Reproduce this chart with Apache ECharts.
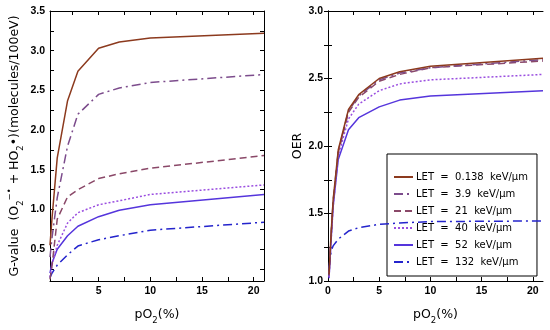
<!DOCTYPE html>
<html><head><meta charset="utf-8">
<script src="https://cdn.jsdelivr.net/npm/echarts@6/dist/echarts.min.js"></script>
<style>html,body{margin:0;padding:0;background:#fff}#c{width:550px;height:330px}</style>
</head><body><div id="c"></div>
<script>
// ---- data ----
const seriesNames = ['LET = 0.138 keV/μm','LET = 3.9 keV/μm','LET = 21 keV/μm','LET = 40 keV/μm','LET = 52 keV/μm','LET = 132 keV/μm'];
const legendLabels = ['LET  =  0.138  keV/μm','LET  =  3.9  keV/μm','LET  =  21  keV/μm','LET  =  40  keV/μm','LET  =  52  keV/μm','LET  =  132  keV/μm'];
// left panel: G-value vs pO2
const pO2Left = [0.3, 0.5, 1, 2, 3, 5, 7, 10, 21];
const gLET0138 = [0.55, 0.9, 1.65, 2.37, 2.74, 3.03, 3.11, 3.16, 3.22];
const gLET39   = [0.4, 0.65, 1.15, 1.8, 2.2, 2.45, 2.53, 2.60, 2.70];
const gLET21   = [0.12, 0.3, 0.88, 1.16, 1.25, 1.39, 1.45, 1.52, 1.68];
const gLET40   = [0.15, 0.3, 0.55, 0.83, 0.96, 1.06, 1.11, 1.19, 1.31];
const gLET52   = [0.2, 0.33, 0.5, 0.67, 0.79, 0.91, 0.99, 1.06, 1.19];
const gLET132  = [0.14, 0.2, 0.3, 0.43, 0.54, 0.62, 0.67, 0.74, 0.84];
// right panel: OER vs pO2
const pO2Right = [0.1, 0.3, 0.5, 1, 2, 3, 5, 7, 10, 21];
const oerLET0138 = [1.05, 1.35, 1.6, 1.97, 2.27, 2.38, 2.50, 2.55, 2.59, 2.65];
const oerLET39   = [1.05, 1.34, 1.59, 1.96, 2.26, 2.37, 2.49, 2.54, 2.58, 2.64];
const oerLET21   = [1.04, 1.33, 1.58, 1.95, 2.25, 2.36, 2.48, 2.53, 2.58, 2.63];
const oerLET40   = [1.03, 1.3, 1.55, 1.93, 2.2, 2.31, 2.41, 2.46, 2.49, 2.53];
const oerLET52   = [1.02, 1.3, 1.55, 1.9, 2.12, 2.21, 2.29, 2.34, 2.37, 2.41];
const oerLET132  = [1.1, 1.22, 1.26, 1.31, 1.37, 1.395, 1.42, 1.43, 1.44, 1.445];
// ticks
const leftXLabels = [5, 10, 15, 20];
const leftXTicks = [2.5, 5, 7.5, 10, 12.5, 15, 17.5, 20];
const leftYLabels = [0.5, 1.0, 1.5, 2.0, 2.5, 3.0, 3.5];
const leftYTicks = [0.25, 0.5, 0.75, 1, 1.25, 1.5, 1.75, 2, 2.25, 2.5, 2.75, 3, 3.25, 3.5];
const rightXLabels = [0, 5, 10, 15, 20];
const rightXTicks = [0, 2.5, 5, 7.5, 10, 12.5, 15, 17.5, 20];
const rightYLabels = [1.0, 1.5, 2.0, 2.5, 3.0];
const rightYTicks = [1, 1.25, 1.5, 1.75, 2, 2.25, 2.5, 2.75, 3];

// ---- styles ----
const colors = ['#8c3a1e', '#7c4c8c', '#8a4868', '#9a4ee0', '#5535dc', '#2424cc'];
const dashes = ['solid', [9, 4, 2, 4], [7, 4], [2, 2], 'solid', [9, 4, 2, 4]];
const leftData = [gLET0138, gLET39, gLET21, gLET40, gLET52, gLET132];
const rightData = [oerLET0138, oerLET39, oerLET21, oerLET40, oerLET52, oerLET132];

const FONT = 'Liberation Sans';
const NFONT = 'DejaVu Sans';
const rich = {
  n: {fontSize: 12.5, fontFamily: NFONT, color: '#000', lineHeight: 20, verticalAlign: 'middle'},
  s: {fontSize: 8.5, fontFamily: NFONT, color: '#000', lineHeight: 11, verticalAlign: 'bottom'},
  u: {fontSize: 8.5, fontFamily: NFONT, color: '#000', lineHeight: 11, verticalAlign: 'top'}
};
const richOER = {
  n: {fontSize: 12.5, fontFamily: NFONT, color: '#000', lineHeight: 14, verticalAlign: 'middle'}
};
const richX = {
  n: {fontSize: 12.5, fontFamily: NFONT, color: '#000', lineHeight: 20, verticalAlign: 'middle'},
  s: {fontSize: 8.5, fontFamily: NFONT, color: '#000', lineHeight: 12, verticalAlign: 'bottom'}
};

function valAxis(o) {
  const base = {
    type: 'value', gridIndex: o.grid, min: o.min, max: o.max, position: o.position,
    axisLine: {show: true, lineStyle: {color: '#000', width: 1}},
    axisTick: {show: true, inside: true, length: 4, customValues: o.ticks, lineStyle: {color: '#000', width: 1}},
    axisLabel: {show: !!o.labels, customValues: o.labels || [], color: '#000', fontSize: 10.5, fontWeight: 'bold', fontFamily: FONT, margin: 5,
      formatter: o.fmt || (v => String(v))},
    splitLine: {show: false}
  };
  if (o.name) {
    base.name = o.name; base.nameLocation = 'middle'; base.nameGap = o.nameGap; base.nameTextStyle = {rich: o.rich};
  }
  return base;
}
const fmt1 = v => v.toFixed(1);

const xAxis = [
  valAxis({grid: 0, min: 0.3, max: 21, position: 'bottom', ticks: leftXTicks, labels: leftXLabels, name: '{n|pO}{s|2}{n|(%)}', nameGap: 24, rich: richX}),
  valAxis({grid: 0, min: 0.3, max: 21, position: 'top', ticks: leftXTicks}),
  valAxis({grid: 1, min: 0, max: 21, position: 'bottom', ticks: rightXTicks, labels: rightXLabels, name: '{n|pO}{s|2}{n|(%)}', nameGap: 24, rich: richX}),
  valAxis({grid: 1, min: 0, max: 21, position: 'top', ticks: rightXTicks})
];
const yAxis = [
  valAxis({grid: 0, min: 0.1, max: 3.5, position: 'left', ticks: leftYTicks, labels: leftYLabels, fmt: fmt1,
    name: '{n|G-value  (O}{s|2}{u|−•}{n| + HO}{s|2}{n|•)(molecules/100eV)}', nameGap: 25, rich: rich}),
  valAxis({grid: 0, min: 0.1, max: 3.5, position: 'right', ticks: leftYTicks}),
  valAxis({grid: 1, min: 1, max: 3, position: 'left', ticks: rightYTicks, labels: rightYLabels, fmt: fmt1,
    name: '{n|OER}', nameGap: 19, rich: richOER}),
  valAxis({grid: 1, min: 1, max: 3, position: 'right', ticks: rightYTicks})
];

const series = [];
for (let i = 0; i < 6; i++) {
  series.push({
    name: seriesNames[i], type: 'line', xAxisIndex: 0, yAxisIndex: 0, symbol: 'none', smooth: false,
    data: pO2Left.map((x, k) => [x, leftData[i][k]]),
    lineStyle: {color: colors[i], width: 1.5, type: dashes[i]}, itemStyle: {color: colors[i]}, z: 10 - i
  });
}
for (let i = 0; i < 6; i++) {
  series.push({
    name: seriesNames[i], type: 'line', xAxisIndex: 2, yAxisIndex: 2, symbol: 'none', smooth: false,
    data: pO2Right.map((x, k) => [x, rightData[i][k]]),
    lineStyle: {color: colors[i], width: 1.5, type: dashes[i]}, itemStyle: {color: colors[i]}, z: 10 - i
  });
}

const chart = echarts.init(document.getElementById('c'), null, {renderer: 'canvas'});
chart.setOption({
  backgroundColor: '#fff',
  animation: false,
  grid: [
    {left: 50, top: 11, width: 214, height: 278, containLabel: false},
    {left: 328, top: 11, width: 215, height: 278, containLabel: false}
  ],
  xAxis: xAxis,
  yAxis: yAxis,
  legend: {
    data: seriesNames, orient: 'vertical', left: 387, top: 154,
    padding: [17, 9, 8, 6], itemWidth: 19, itemHeight: 12, itemGap: 5,
    borderColor: '#000', borderWidth: 1, backgroundColor: '#fff',
    itemStyle: {color: 'rgba(0,0,0,0)', borderWidth: 0, opacity: 0},
    formatter: name => legendLabels[seriesNames.indexOf(name)],
    textStyle: {fontSize: 10, fontFamily: NFONT, color: '#000', lineHeight: 12, padding: [0, 0, 0, -2]},
    selectedMode: false
  },
  series: series
});
</script></body></html>
